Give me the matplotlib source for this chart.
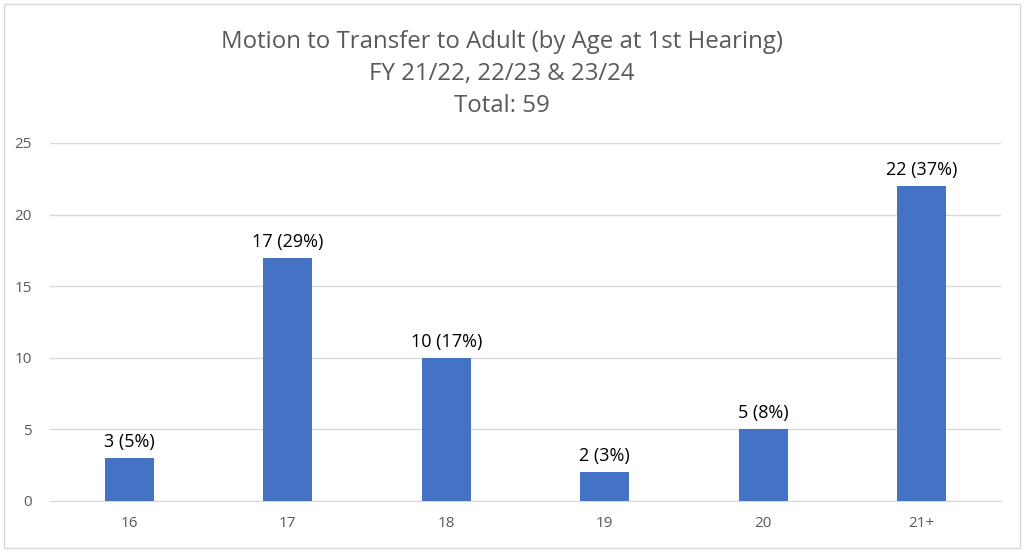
import matplotlib
matplotlib.use("Agg")
import matplotlib.pyplot as plt
from matplotlib.patches import Rectangle

categories = ["16", "17", "18", "19", "20", "21+"]
counts = [3, 17, 10, 2, 5, 22]
labels = ["3 (5%)", "17 (29%)", "10 (17%)", "2 (3%)", "5 (8%)", "22 (37%)"]
yticks = [0, 5, 10, 15, 20, 25]
title = "Motion to Transfer to Adult (by Age at 1st Hearing)\nFY 21/22, 22/23 & 23/24\nTotal: 59"

plt.rcParams['font.family'] = ['Open Sans', 'DejaVu Sans']

W, H = 1024, 552
fig = plt.figure(figsize=(W/100, H/100), dpi=100)
fig.patches.append(Rectangle((4/W, 4/H), 1016/W, 544/H, transform=fig.transFigure,
                             fill=False, edgecolor="#D9D9D9", linewidth=1))

ax = fig.add_axes([50/W, 1-501/H, 951/W, (501-143)/H])
x = list(range(len(categories)))
ax.bar(x, counts, width=0.31, color="#4472C4", zorder=3)
for xi, c, l in zip(x, counts, labels):
    ax.annotate(l, (xi, c), xytext=(0, 5), textcoords="offset points",
                ha="center", va="bottom", fontsize=13, color="#000000")

ax.set_xlim(-0.5, len(categories)-0.5)
ax.set_ylim(0, 25)
ax.set_yticks(yticks)
ax.set_xticks(x)
ax.set_xticklabels(categories)
ax.grid(axis="y", color="#D9D9D9", linewidth=1, zorder=0)
for s in ["top", "right", "left"]:
    ax.spines[s].set_visible(False)
ax.spines["bottom"].set_color("#D9D9D9")
ax.tick_params(axis="both", length=0, labelsize=11, colors="#595959")
ax.tick_params(axis="y", pad=13)
ax.tick_params(axis="x", pad=11)

fig.text(502/W, 1-30/H, title, ha="center", va="top", fontsize=17.3, color="#595959",
         linespacing=1.45)

fig.savefig("out.png", dpi=100)
